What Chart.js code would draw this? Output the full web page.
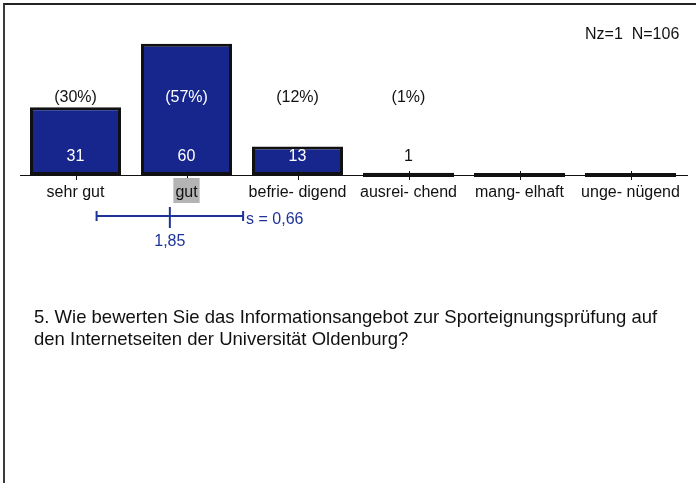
<!DOCTYPE html>
<html>
<head>
<meta charset="utf-8">
<script src="https://cdn.jsdelivr.net/npm/chart.js@4.4.1/dist/chart.umd.min.js"></script>
<style>
  html, body { margin: 0; padding: 0; background: #fff; }
  body { width: 696px; height: 483px; position: relative; overflow: hidden;
         font-family: "Liberation Sans", Arial, sans-serif; }
  #frame { position: absolute; left: 3px; top: 3px; width: 700px; height: 500px;
           border-left: 2px solid #3a3a3a; border-top: 2px solid #222; }
  #wrap { position: absolute; left: 0; top: 0; width: 696px; height: 483px; }
  #nz { position: absolute; left: 585px; top: 25px; font-size: 16px; color: #111; white-space: pre; }
  #question { position: absolute; left: 34px; top: 306px; font-size: 18.5px; line-height: 22px; color: #111; white-space: nowrap; }
</style>
</head>
<body>
<div id="frame"></div>
<div id="wrap"><canvas id="chart" width="696" height="483"></canvas></div>
<div id="nz">Nz=1  N=106</div>
<div id="question">5. Wie bewerten Sie das Informationsangebot zur Sporteignungsprüfung auf<br>den Internetseiten der Universität Oldenburg?</div>
<script>
// ---------- Data ----------
const categories = ["sehr gut", "gut", "befrie- digend", "ausrei- chend", "mang- elhaft", "unge- nügend"];
const counts = [31, 60, 13, 1, 0, 0];
const percents = ["(30%)", "(57%)", "(12%)", "(1%)", "", ""];
const medianIndex = 1;
const meanValue = 1.85;  // scale 1..6
const sdValue = 0.66;

// ---------- Style ----------
const BAR_FILL = "#16268c";
const MEAN_BLUE = "#1f3497";
const FONT = '"Liberation Sans", Arial, sans-serif';

const overlay = {
  id: "overlay",
  afterDatasetsDraw(chart) {
    const { ctx, scales: { x, y }, chartArea } = chart;
    const base = y.getPixelForValue(0);
    const meta = chart.getDatasetMeta(0);
    ctx.save();

    // baseline
    ctx.strokeStyle = "#111";
    ctx.lineWidth = 1;
    ctx.beginPath();
    ctx.moveTo(chartArea.left, base + 0.5);
    ctx.lineTo(chartArea.right + 2, base + 0.5);
    ctx.stroke();

    // thick line for tiny / empty bars
    meta.data.forEach((bar, i) => {
      if (counts[i] > 1) return;
      const half = bar.width / 2;
      ctx.fillStyle = "#111";
      ctx.fillRect(bar.x - half, base - 2, bar.width, 4);
    });

    // tick marks
    ctx.strokeStyle = "#111";
    ctx.lineWidth = 1;
    categories.forEach((c, i) => {
      const px = Math.round(x.getPixelForValue(i)) + 0.5;
      ctx.beginPath();
      ctx.moveTo(px, base - 4);
      ctx.lineTo(px, base + 5);
      ctx.stroke();
    });

    ctx.textAlign = "center";
    ctx.textBaseline = "middle";
    ctx.font = "16px " + FONT;

    // category labels
    categories.forEach((c, i) => {
      const px = x.getPixelForValue(i);
      if (i === medianIndex) {
        const w = ctx.measureText(c).width + 4;
        ctx.fillStyle = "#b4b4b4";
        ctx.fillRect(px - w / 2, base + 3, w, 25);
      }
      ctx.fillStyle = "#111";
      ctx.fillText(c, px, base + 18);
    });

    // counts and percents
    meta.data.forEach((bar, i) => {
      if (!counts[i]) return;
      const countY = base - 18;
      const pctY = base - 77;
      ctx.fillStyle = bar.y < countY - 6 ? "#fff" : "#111";
      ctx.fillText(String(counts[i]), bar.x, countY);
      ctx.fillStyle = bar.y < pctY - 6 ? "#fff" : "#111";
      ctx.fillText(percents[i], bar.x, pctY);
    });

    // mean and standard deviation
    const my = base + 41;
    const mx = x.getPixelForValue(meanValue - 1);
    const lx = x.getPixelForValue(meanValue - 1 - sdValue);
    const rx = x.getPixelForValue(meanValue - 1 + sdValue);
    ctx.strokeStyle = MEAN_BLUE;
    ctx.lineWidth = 2;
    ctx.beginPath();
    ctx.moveTo(lx, my); ctx.lineTo(rx, my);
    ctx.moveTo(lx, my - 5); ctx.lineTo(lx, my + 5);
    ctx.moveTo(rx, my - 5); ctx.lineTo(rx, my + 5);
    ctx.moveTo(mx, my - 9); ctx.lineTo(mx, my + 12);
    ctx.stroke();
    ctx.fillStyle = MEAN_BLUE;
    ctx.fillText("1,85", mx, my + 26);
    ctx.textAlign = "left";
    ctx.fillText("s = 0,66", rx + 3, my + 4);

    ctx.restore();
  }
};

new Chart(document.getElementById("chart"), {
  type: "bar",
  data: {
    labels: categories,
    datasets: [{
      data: counts,
      backgroundColor: BAR_FILL,
      borderColor: "#111",
      borderWidth: 3,
      borderSkipped: false,
      barPercentage: 0.82,
      categoryPercentage: 1
    }]
  },
  options: {
    responsive: false,
    animation: false,
    layout: { padding: { left: 20, right: 10, top: 22, bottom: 308 } },
    plugins: { legend: { display: false }, tooltip: { enabled: false } },
    scales: {
      x: { display: false },
      y: { display: false, min: 0, max: 70 }
    }
  },
  plugins: [overlay]
});
</script>
</body>
</html>
